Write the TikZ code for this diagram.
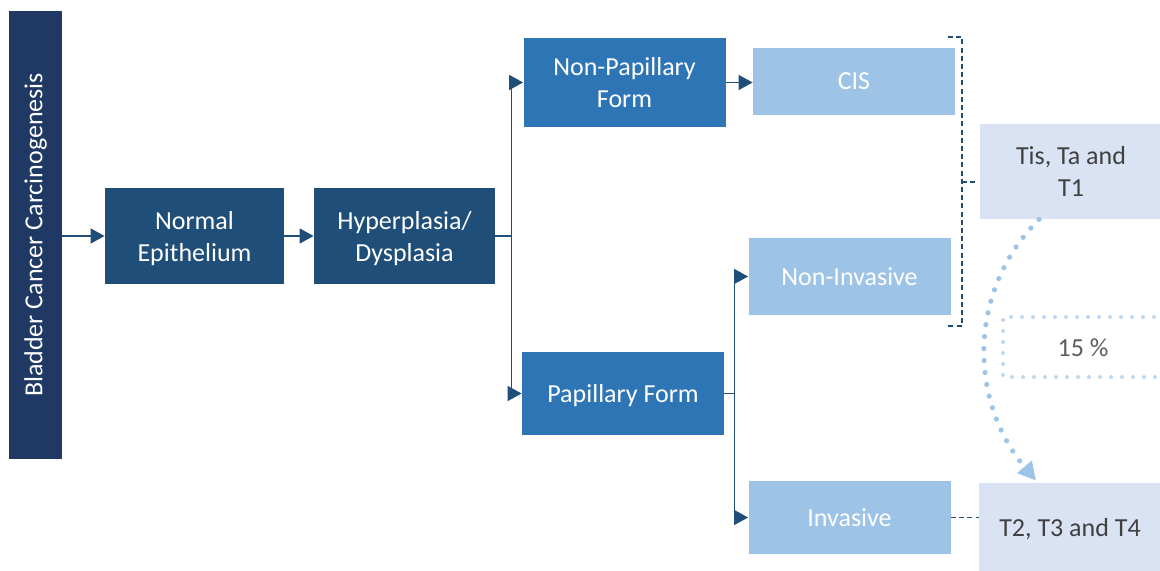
\documentclass[tikz,border=0pt]{standalone}
\usepackage{fontspec}
\setmainfont{Carlito}
\usetikzlibrary{arrows.meta}

\definecolor{barblue}{HTML}{203864}
\definecolor{darkblue}{HTML}{1F4E79}
\definecolor{midblue}{HTML}{2E75B6}
\definecolor{lightblue}{HTML}{9DC3E6}
\definecolor{paleblue}{HTML}{BDD7EE}
\definecolor{gradeblue}{HTML}{DAE3F3}
\definecolor{gradetext}{HTML}{404040}

\begin{document}
\begin{tikzpicture}[x=0.5pt, y=-0.5pt,
        stage/.style={fill=darkblue, text=white, align=center, inner sep=0pt, text depth=-2pt,
            font=\fontsize{13}{16}\selectfont},
        form/.style={stage, fill=midblue, minimum width=101pt},
        kind/.style={stage, fill=lightblue, minimum width=101pt},
        grade/.style={stage, fill=gradeblue, text=gradetext, minimum width=91pt},
        conn/.style={draw=darkblue, line width=0.75pt, -{Triangle[length=7pt, width=7.5pt]}},
        bracket/.style={draw=darkblue, line width=0.6pt, dash pattern=on 2.5pt off 1.6pt},
        dotarc/.style={draw=lightblue, line width=2.6pt, line cap=round,
            dash pattern=on 0pt off 6pt, -{Triangle[length=9pt, width=9pt]}},
        dotbox/.style={draw=paleblue, line width=2pt, line cap=round,
            dash pattern=on 0pt off 5.5pt}]
                \useasboundingbox (0,0) rectangle (1160,571);

                % Main stages:
                \node[stage, fill=barblue, rotate=90, text depth=, minimum width=224pt, minimum height=26.5pt]
                    (bar) at (35.5,235) {Bladder Cancer Carcinogenesis};
                \node[stage, minimum width=89.5pt, minimum height=48pt] (normal) at (194.5,236) {Normal\\Epithelium};
                \node[stage, minimum width=90.5pt, minimum height=48pt] (hyper) at (404.5,236) {Hyperplasia/\\Dysplasia};

                % Forms and kinds:
                \node[form, minimum height=44.5pt] (nonpap) at (624.5,82.5) {Non-Papillary\\Form};
                \node[form, minimum height=41.5pt] (pap) at (623,393.5) {Papillary Form};
                \node[kind, minimum height=33.5pt] (cis) at (854,81.5) {CIS};
                \node[kind, minimum height=38.5pt] (noninv) at (849.5,276.5) {Non-Invasive};
                \node[kind, minimum height=36.5pt] (inv) at (849.5,517.5) {Invasive};

                % Grades:
                \node[grade, minimum height=47.5pt] (tis) at (1071,171.5) {Tis, Ta and\\T1};
                \node[grade, minimum height=44pt] (tfour) at (1070,527) {T2, T3 and T4};
                \node[stage, fill=none, text=gradetext!85!white] (pct) at (1083,348) {15 \%};

                % Arrows:
                \draw[conn] (normal.west -| bar.south) -- (normal.west);
                \draw[conn] (normal.east) -- (hyper.west);
                \draw[conn] (hyper.east) -- ++(16,0) |- (nonpap.west);
                \draw[conn] (hyper.east) -- ++(16,0) |- (pap.west);
                \draw[conn] (nonpap.east) -- (nonpap.east -| cis.west);
                \draw[conn] (pap.east) -- ++(10,0) |- (noninv.west);
                \draw[conn] (pap.east) -- ++(10,0) |- (inv.west);

                % Bracket and dashed links:
                \coordinate (brtop) at (948,37);
                \coordinate (brbot) at (948,326);
                \coordinate (brmid) at (962,182);
                \draw[bracket] (brtop) -- ++(14,0) |- (brbot);
                \draw[bracket] (brmid) -- ++(13,0);
                \draw[bracket] (inv.east) -- (inv.east -| tfour.west);

                % Dotted progression:
                \draw[dotbox] (1165,317) -| (1003,377) -- (1165,377);
                \draw[dotarc] ([xshift=-16pt]tis.south) .. controls (968,290) and (968,400)
                    .. ([xshift=-17pt, yshift=1pt]tfour.north);
            \end{tikzpicture}
\end{document}
